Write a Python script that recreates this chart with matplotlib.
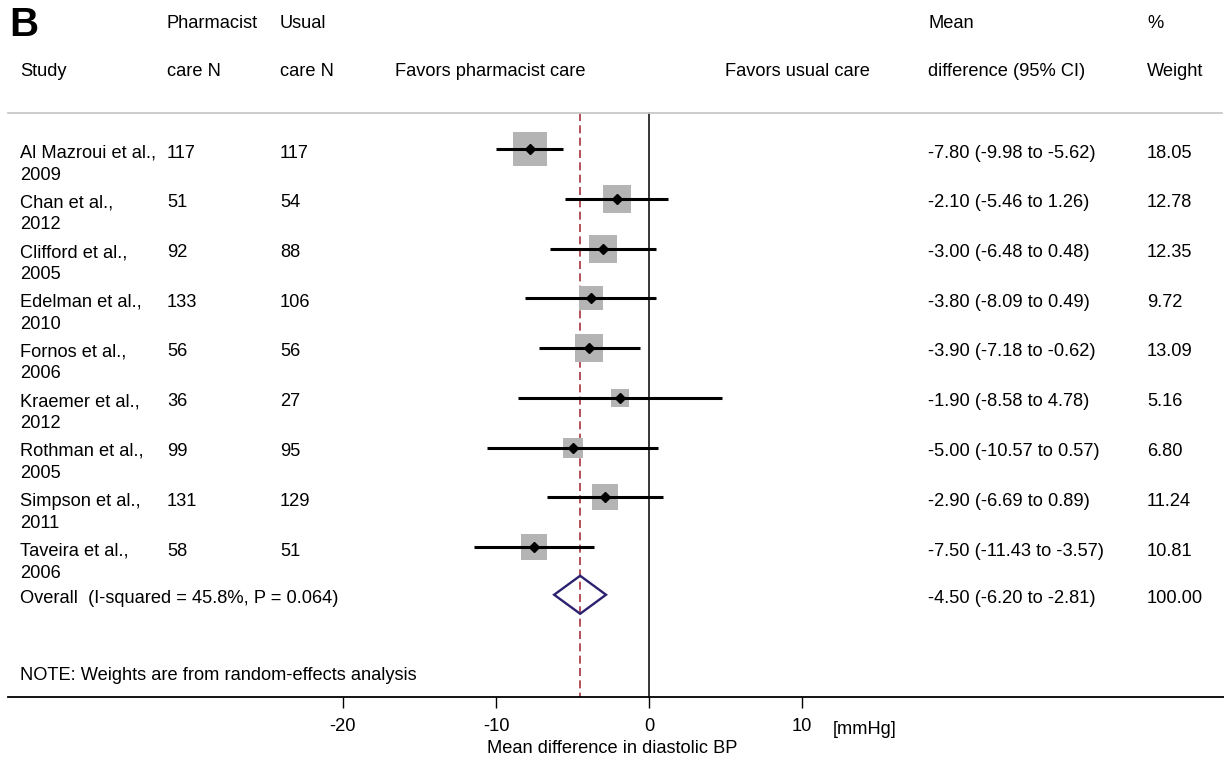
import numpy as np
import matplotlib
matplotlib.use("Agg")
import matplotlib.pyplot as plt
from matplotlib.patches import Polygon

plt.rcParams['font.family'] = ['Liberation Sans', 'DejaVu Sans']

# study data
studies = ["Al Mazroui et al.,", "Chan et al.,", "Clifford et al.,", "Edelman et al.,",
           "Fornos et al.,", "Kraemer et al.,", "Rothman et al.,", "Simpson et al.,",
           "Taveira et al.,"]
years = ["2009", "2012", "2005", "2010", "2006", "2012", "2005", "2011", "2006"]
n_pharm = [117, 51, 92, 133, 56, 36, 99, 131, 58]
n_usual = [117, 54, 88, 106, 56, 27, 95, 129, 51]
md = [-7.80, -2.10, -3.00, -3.80, -3.90, -1.90, -5.00, -2.90, -7.50]
ci_lo = [-9.98, -5.46, -6.48, -8.09, -7.18, -8.58, -10.57, -6.69, -11.43]
ci_hi = [-5.62, 1.26, 0.48, 0.49, -0.62, 4.78, 0.57, 0.89, -3.57]
weights = [18.05, 12.78, 12.35, 9.72, 13.09, 5.16, 6.80, 11.24, 10.81]

overall_md = -4.50
overall_lo = -6.20
overall_hi = -2.81
overall_label = "Overall  (I-squared = 45.8%, P = 0.064)"

xticks = [-20, -10, 0, 10]

# layout (figure pixels)
W, H = 1224, 762
x_zero = 649          # pixel of 0 mmHg
scale = 15.3          # pixels per mmHg
row0, row_step = 149, 49.75
line_top, axis_y = 113, 697
fs = 13.15

def px(x):
    return (x - x_zero) / scale

fig = plt.figure(figsize=(W / 100, H / 100), dpi=100)
ax = fig.add_axes([0, 0, 1, 1])
ax.set_xlim(px(0), px(W))
ax.set_ylim(H, 0)

rows = row0 + row_step * np.arange(len(studies))
overall_y = row0 + row_step * len(studies) - 2

# reference lines
ax.plot([0, 0], [line_top, axis_y], color='black', lw=1.1)
ax.plot([overall_md, overall_md], [line_top, axis_y], color='#a8323e', lw=1.2,
        linestyle=(0, (4.8, 2.6)))

# squares, CIs, point estimates
for y, m, lo, hi, w in zip(rows, md, ci_lo, ci_hi, weights):
    side = 7.77 * np.sqrt(w) * 0.72
    ax.plot(m, y, marker='s', markersize=side, color='#b4b4b4', markeredgewidth=0, zorder=2)
    ax.plot([lo, hi], [y, y], color='black', lw=2.2, solid_capstyle='butt', zorder=3)
    ax.plot(m, y, marker='D', markersize=5.2, color='black', zorder=4)

# overall diamond
dia = Polygon([[overall_lo, overall_y], [overall_md, overall_y - 19],
               [overall_hi, overall_y], [overall_md, overall_y + 19]],
              closed=True, fill=False, edgecolor='#2a2270', lw=1.7, zorder=4)
ax.add_patch(dia)

# header
ax.text(px(9), 25, "B", fontsize=29, fontweight='bold', va='center', ha='left')
ax.text(px(167), 24, "Pharmacist", fontsize=fs, va='center')
ax.text(px(280), 24, "Usual", fontsize=fs, va='center')
ax.text(px(928), 24, "Mean", fontsize=fs, va='center')
ax.text(px(1147), 24, "%", fontsize=fs, va='center')
ax.text(px(20), 71, "Study", fontsize=fs, va='center')
ax.text(px(167), 71, "care N", fontsize=fs, va='center')
ax.text(px(280), 71, "care N", fontsize=fs, va='center')
ax.text(px(395), 71, "Favors pharmacist care", fontsize=fs, va='center')
ax.text(px(725), 71, "Favors usual care", fontsize=fs, va='center')
ax.text(px(928), 71, "difference (95% CI)", fontsize=fs, va='center')
ax.text(px(1147), 71, "Weight", fontsize=fs, va='center')
ax.plot([px(8), px(1222)], [line_top, line_top], color='#c8c8c8', lw=1.3)

# table rows
for y, s, yr, n1, n2, m, lo, hi, w in zip(rows, studies, years, n_pharm, n_usual,
                                          md, ci_lo, ci_hi, weights):
    ax.text(px(20), y + 4, s, fontsize=fs, va='center')
    ax.text(px(20), y + 26, yr, fontsize=fs, va='center')
    ax.text(px(167), y + 4, str(n1), fontsize=fs, va='center')
    ax.text(px(280), y + 4, str(n2), fontsize=fs, va='center')
    ax.text(px(928), y + 4, f"{m:.2f} ({lo:.2f} to {hi:.2f})", fontsize=fs, va='center')
    ax.text(px(1147), y + 4, f"{w:.2f}", fontsize=fs, va='center')

ax.text(px(20), overall_y + 4, overall_label, fontsize=fs, va='center')
ax.text(px(928), overall_y + 4,
        f"{overall_md:.2f} ({overall_lo:.2f} to {overall_hi:.2f})", fontsize=fs, va='center')
ax.text(px(1147), overall_y + 4, f"{sum(weights):.2f}", fontsize=fs, va='center')

ax.text(px(20), 676, "NOTE: Weights are from random-effects analysis", fontsize=fs, va='center')

# x axis
for side in ['top', 'left', 'right']:
    ax.spines[side].set_visible(False)
ax.spines['bottom'].set_position(('data', axis_y))
ax.spines['bottom'].set_bounds(px(8), px(W))
ax.spines['bottom'].set_linewidth(1.3)
ax.set_yticks([])
ax.set_xticks(xticks)
ax.set_xticklabels([str(t) for t in xticks])
ax.tick_params(axis='x', direction='out', length=8, width=1.0, pad=7, labelsize=fs)
ax.set_xlabel("Mean difference in diastolic BP", fontsize=fs, labelpad=4)
ax.text(px(833), 729, "[mmHg]", fontsize=fs, va='center')

fig.savefig("out.png", dpi=100)
